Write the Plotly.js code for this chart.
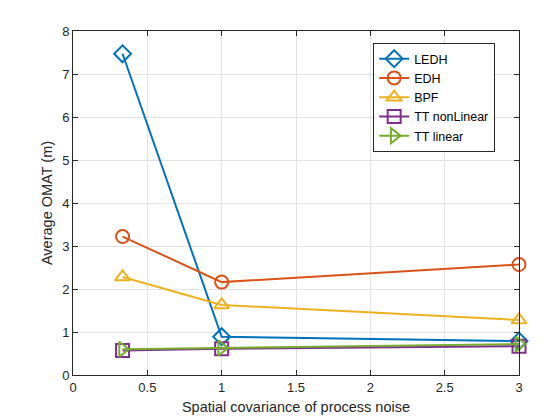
<!DOCTYPE html>
<html>
<head>
<meta charset="utf-8">
<script src="https://cdn.plot.ly/plotly-3.0.1.min.js"></script>
<style>html,body{margin:0;padding:0;background:#fff;}#plot{width:560px;height:420px;}</style>
</head>
<body>
<div id="plot"></div>
<script>
// Spatial covariance of process noise (x positions)
const noiseCov = [1/3, 1, 3];

// Average OMAT per filter
const ledh = [7.47, 0.89, 0.79];
const edh = [3.22, 2.16, 2.57];
const bpf = [2.28, 1.63, 1.28];
const ttNonLinear = [0.57, 0.61, 0.67];
const ttLinear = [0.60, 0.63, 0.72];

const seriesNames = ['LEDH', 'EDH', 'BPF', 'TT nonLinear', 'TT linear'];
const seriesValues = [ledh, edh, bpf, ttNonLinear, ttLinear];
const colors = ['#0072BD', '#D95319', '#EDB120', '#7E2F8E', '#77AC30'];
const symbols = ['diamond-open', 'circle-open', 'triangle-up-open', 'square-open', 'triangle-right-open'];

const fontFamily = 'Liberation Sans, Arial, Helvetica, sans-serif';

const traces = seriesNames.map((name, i) => ({
  x: noiseCov,
  y: seriesValues[i],
  name: name,
  type: 'scatter',
  mode: 'lines+markers',
  cliponaxis: false,
  line: {color: colors[i], width: 2},
  marker: {symbol: symbols[i], size: 13, color: colors[i], line: {color: colors[i], width: 2}}
}));

const axisCommon = {
  showline: true,
  mirror: 'ticks',
  linecolor: '#262626',
  linewidth: 1,
  ticks: 'inside',
  ticklen: 5,
  tickcolor: '#262626',
  showgrid: true,
  gridcolor: '#e3e3e3',
  gridwidth: 1,
  zeroline: false,
  tickfont: {family: fontFamily, size: 13, color: '#262626'}
};

const layout = {
  width: 560,
  height: 420,
  paper_bgcolor: '#ffffff',
  plot_bgcolor: '#ffffff',
  margin: {l: 73, r: 41, t: 31, b: 45},
  showlegend: true,
  legend: {
    x: 0.673, y: 0.965, xanchor: 'left', yanchor: 'top',
    bgcolor: '#ffffff', bordercolor: '#262626', borderwidth: 1,
    font: {family: fontFamily, size: 12.5, color: '#000'},
    tracegroupgap: 0
  },
  xaxis: Object.assign({}, axisCommon, {
    range: [0, 3],
    tickvals: [0, 0.5, 1, 1.5, 2, 2.5, 3],
    ticktext: ['0', '0.5', '1', '1.5', '2', '2.5', '3'],
    title: {text: 'Spatial covariance of process noise', font: {family: fontFamily, size: 14.5, color: '#262626'}, standoff: 8}
  }),
  yaxis: Object.assign({}, axisCommon, {
    range: [0, 8],
    tickvals: [0, 1, 2, 3, 4, 5, 6, 7, 8],
    title: {text: 'Average OMAT (m)', font: {family: fontFamily, size: 14.5, color: '#262626'}, standoff: 6}
  })
};

Plotly.newPlot('plot', traces, layout, {displayModeBar: false, staticPlot: true});
</script>
</body>
</html>
